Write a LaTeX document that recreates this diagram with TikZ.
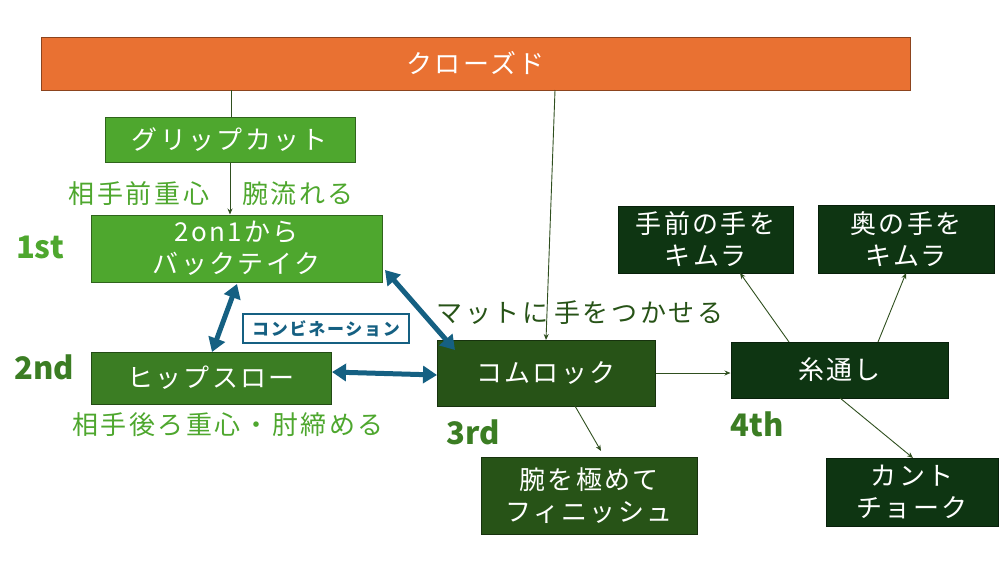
\documentclass[tikz,border=0pt]{standalone}
\usepackage{fontspec}
\setmainfont{Noto Sans CJK JP}
\usetikzlibrary{arrows.meta}
\definecolor{orng}{HTML}{E97132}
\definecolor{orngd}{HTML}{7A3A17}
\definecolor{gA}{HTML}{4EA72E}
\definecolor{gB}{HTML}{3B7D23}
\definecolor{gC}{HTML}{275317}
\definecolor{gD}{HTML}{0E3512}
\definecolor{gline}{HTML}{2F4F1F}
\definecolor{blu}{HTML}{156082}
\tikzset{
  box/.style={draw=#1!60!black, line width=1pt, align=center, text=white, inner sep=0pt, font=\fontsize{26}{32}\selectfont\addfontfeature{LetterSpace=9}},
  lbl/.style={inner sep=0pt, font=\fontsize{26}{30}\selectfont\addfontfeature{LetterSpace=10}},
  stage/.style={inner sep=0pt, font=\fontsize{31}{34}\selectfont\bfseries},
  thin/.style={draw=gline, line width=0.9pt},
  tarr/.style={thin, -{Stealth[length=6pt,width=5pt]}},
  barr/.style={draw=blu, line width=5pt, {Triangle[length=14pt,width=17pt]}-{Triangle[length=14pt,width=17pt]}, shorten <=0pt, shorten >=0pt},
}
\begin{document}
\begin{tikzpicture}[x=1pt,y=-1pt]
\useasboundingbox (0,0) rectangle (1000,563);
% boxes
\node[box=orng, fill=orng, minimum width=869pt, minimum height=53pt] (closed) at (475.5,63.5) {クローズド};
\node[box=gA, fill=gA, minimum width=250pt, minimum height=45pt] (grip) at (230,139.5) {グリップカット};
\node[box=gA, fill=gA, minimum width=291pt, minimum height=67pt] (back) at (236.5,248.5) {2on1から\\バックテイク};
\node[box=gB, fill=gB, minimum width=240pt, minimum height=52pt] (hip) at (211,378) {ヒップスロー};
\node[box=gC, fill=gC, minimum width=218pt, minimum height=66pt] (kom) at (546,373) {コムロック};
\node[box=gC, fill=gC, minimum width=216pt, minimum height=77pt] (fin) at (589,495.5) {腕を極めて\\フィニッシュ};
\node[box=gD, fill=gD, minimum width=217pt, minimum height=56pt] (ito) at (839.5,370) {糸通し};
\node[box=gD, fill=gD, minimum width=175pt, minimum height=67pt] (kimA) at (705.5,239.5) {手前の手を\\キムラ};
\node[box=gD, fill=gD, minimum width=176pt, minimum height=68pt] (kimB) at (906,239) {奥の手を\\キムラ};
\node[box=gD, fill=gD, minimum width=172pt, minimum height=68pt] (kant) at (912,492) {カント\\チョーク};
\node[draw=blu, line width=1.2pt, fill=white, text=blu, minimum width=166pt, minimum height=29pt, inner sep=0pt, font=\fontsize{17}{20}\selectfont\bfseries\addfontfeature{LetterSpace=10}] (combo) at (326,328.5) {コンビネーション};
% labels
\node[lbl, text=gA] (l1) at (139,194) {相手前重心};
\node[lbl, text=gA] (l2) at (298,194) {腕流れる};
\node[lbl, text=gA] (l3) at (228,425) {相手後ろ重心・肘締める};
\node[lbl, text=gC] (l4) at (580,313) {マットに\hspace{6pt}手をつかせる};
\node[stage, text=gA] (s1) at (40,247) {1st};
\node[stage, text=gB] (s2) at (44,367) {2nd};
\node[stage, text=gB] (s3) at (473,432) {3rd};
\node[stage, text=gB] (s4) at (757,424) {4th};
% connectors
\coordinate (c1) at (231,90);
\coordinate (c2) at (555,90);
\draw[thin] (c1) -- (grip.north -| c1);
\draw[tarr] (grip.south) -- (back.north -| grip.south);
\draw[tarr] (c2) -- (546,340);
\draw[tarr] (kom.east) -- (ito.west |- kom.east);
\coordinate (fe) at (601,451);
\draw[tarr] (575,406) -- (fe);
\draw[tarr] (789,342) -- (740,273);
\draw[tarr] (878,342) -- (906,273);
\draw[tarr] (840,398) -- (913,458);
% blue double arrows
\draw[barr] (237,284) -- (212,352);
\draw[barr] (385,270) -- (455,350);
\draw[barr] (332,372) -- (437,375);
\end{tikzpicture}
\end{document}
